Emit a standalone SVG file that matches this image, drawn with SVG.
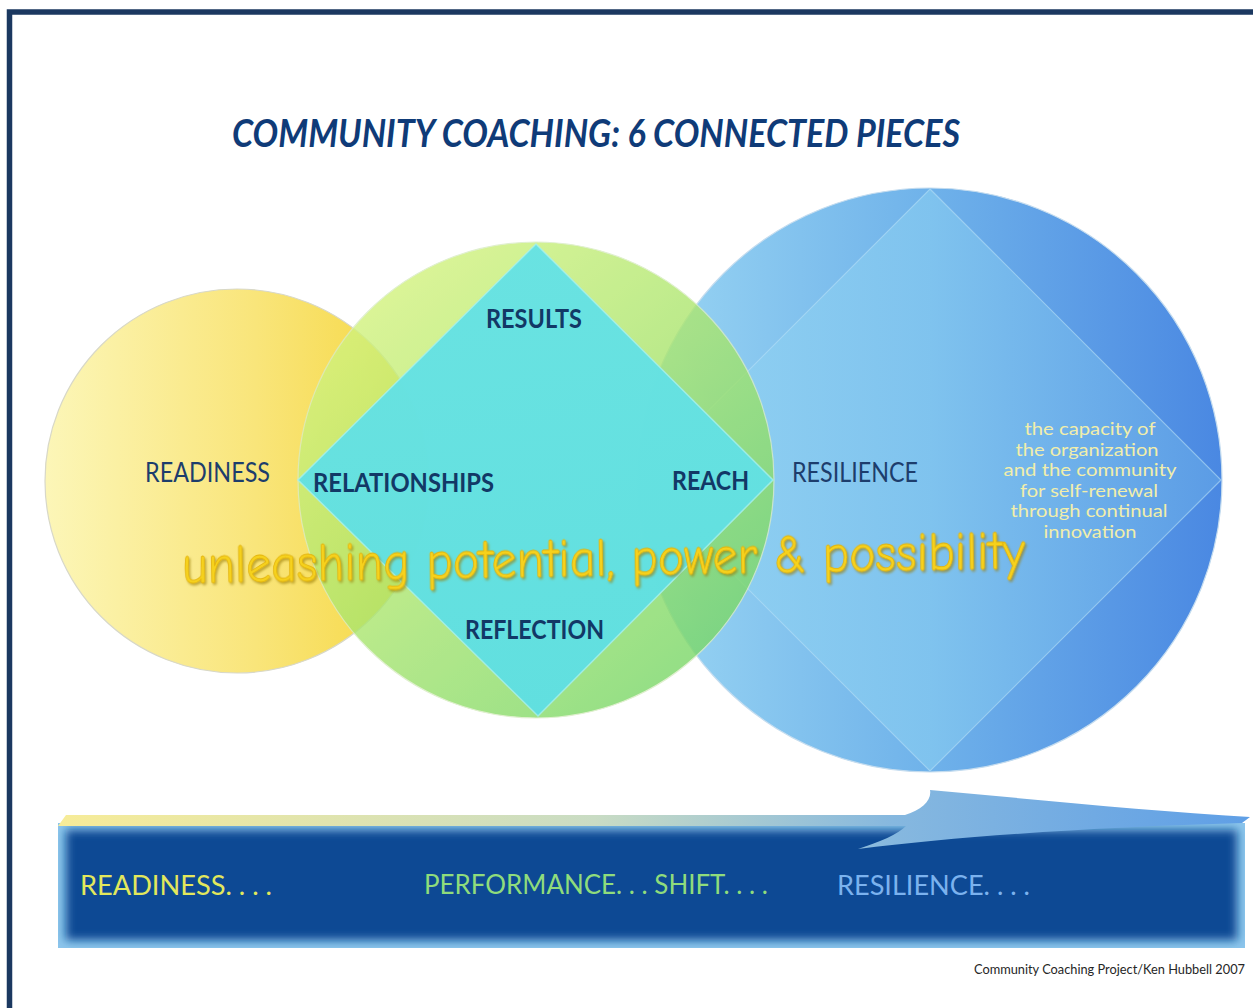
<svg xmlns="http://www.w3.org/2000/svg" width="1253" height="1008" viewBox="0 0 1253 1008">
  <defs>
    <style>
      .title { font-family: Lato, "Open Sans", "Liberation Sans", sans-serif; font-weight: 700; font-style: italic; font-size: 39px; fill: #0f3b78; }
      .lbl { font-family: Lato, "Open Sans", "Liberation Sans", sans-serif; font-size: 27px; fill: #1d3d6c; }
      .lbl-b { font-family: Lato, "Open Sans", "Liberation Sans", sans-serif; font-weight: 700; font-size: 27px; fill: #123866; }
      .desc { font-family: Lato, "Open Sans", "Liberation Sans", sans-serif; font-size: 17.5px; fill: #f1eeaa; text-anchor: middle; }
      .motto { font-family: "Comic Neue", Lato, "Open Sans", sans-serif; font-size: 54px; fill: #f6d21e; stroke: #e4b40c; stroke-width: 0.8; }
      .bar-txt { font-family: Lato, "Open Sans", "Liberation Sans", sans-serif; font-size: 26px; }
      .foot { font-family: Lato, "Open Sans", "Liberation Sans", sans-serif; font-size: 13px; fill: #262626; text-anchor: end; }
    </style>
    <linearGradient id="gYellow" x1="0" y1="0" x2="1" y2="0">
      <stop offset="0" stop-color="#fcf6b8"/>
      <stop offset="0.55" stop-color="#f9e57a"/>
      <stop offset="1" stop-color="#f5d63c"/>
    </linearGradient>
    <linearGradient id="gGreen" x1="0.15" y1="0.1" x2="0.85" y2="0.9">
      <stop offset="0" stop-color="#d4f37e"/>
      <stop offset="0.5" stop-color="#a9e56e"/>
      <stop offset="1" stop-color="#78d768"/>
    </linearGradient>
    <linearGradient id="gCyan" x1="0" y1="0" x2="0" y2="1">
      <stop offset="0" stop-color="#66e2e4"/>
      <stop offset="1" stop-color="#5fdfe2"/>
    </linearGradient>
    <linearGradient id="gBlue" x1="0" y1="0" x2="1" y2="0">
      <stop offset="0" stop-color="#9ad6f3"/>
      <stop offset="0.5" stop-color="#6fb2ea"/>
      <stop offset="1" stop-color="#4a88e2"/>
    </linearGradient>
    <linearGradient id="gBlueDiamond" x1="0" y1="0" x2="1" y2="0">
      <stop offset="0" stop-color="#93d3f2"/>
      <stop offset="0.5" stop-color="#82c6ef"/>
      <stop offset="1" stop-color="#5e9fe6"/>
    </linearGradient>
    <linearGradient id="gStrip" x1="58" y1="0" x2="1250" y2="0" gradientUnits="userSpaceOnUse">
      <stop offset="0" stop-color="#f7ec98"/>
      <stop offset="0.45" stop-color="#c9dcc4"/>
      <stop offset="0.7" stop-color="#86b8df"/>
      <stop offset="1" stop-color="#5f9fe6"/>
    </linearGradient>
    <filter id="soft" x="-10%" y="-10%" width="120%" height="120%">
      <feGaussianBlur stdDeviation="5"/>
    </filter>
    <filter id="mottoShadow" x="-5%" y="-30%" width="110%" height="160%">
      <feDropShadow dx="1.5" dy="2" stdDeviation="1.2" flood-color="#9a7a00" flood-opacity="0.6"/>
    </filter>
    <clipPath id="barClip">
      <rect x="58" y="823" width="1187" height="125"/>
    </clipPath>
  </defs>

  <!-- page frame -->
  <rect x="0" y="0" width="1253" height="1008" fill="#ffffff"/>
  <path d="M9.5 1008 V12 H1253" fill="none" stroke="#1b3860" stroke-width="5.5"/>

  <text class="title" x="232" y="147" textLength="728" lengthAdjust="spacingAndGlyphs">COMMUNITY COACHING: 6 CONNECTED PIECES</text>

  <!-- readiness circle -->
  <g id="node-readiness">
    <circle cx="237" cy="481" r="192" fill="url(#gYellow)" stroke="#d8d8c8" stroke-width="1.2"/>
  </g>

  <!-- resilience circle with inner diamond -->
  <g id="node-resilience">
    <circle cx="930" cy="480" r="292" fill="url(#gBlue)" stroke="#c4dcef" stroke-width="1.2"/>
    <polygon points="930,189 1221,480 930,771 639,480" fill="url(#gBlueDiamond)" opacity="0.85"/>
    <polygon points="930,189 1221,480 930,771 639,480" fill="none" stroke="#b6e0f6" stroke-width="1.2" opacity="0.6"/>
  </g>

  <!-- performance circle (results / relationships / reach / reflection) -->
  <g id="node-performance">
    <circle cx="536" cy="480" r="238" fill="url(#gGreen)" opacity="0.8" stroke="#d9ecc4" stroke-width="1.2"/>
    <polygon points="536,244 773,480 538,716 298,480" fill="url(#gCyan)" opacity="0.97"/>
    <polygon points="536,244 773,480 538,716 298,480" fill="none" stroke="#a8f0ee" stroke-width="1.5" opacity="0.8"/>
  </g>

  <!-- labels -->
  <g id="labels">
    <text class="lbl" x="145" y="482" textLength="125" lengthAdjust="spacingAndGlyphs">READINESS</text>
    <text class="lbl-b" x="486" y="328" textLength="96" lengthAdjust="spacingAndGlyphs">RESULTS</text>
    <text class="lbl-b" x="313" y="492" textLength="181" lengthAdjust="spacingAndGlyphs">RELATIONSHIPS</text>
    <text class="lbl-b" x="672" y="490" textLength="77" lengthAdjust="spacingAndGlyphs">REACH</text>
    <text class="lbl-b" x="465" y="639" textLength="139" lengthAdjust="spacingAndGlyphs">REFLECTION</text>
    <text class="lbl" x="792" y="482" textLength="126" lengthAdjust="spacingAndGlyphs">RESILIENCE</text>
    <text class="desc" x="1090" y="435" textLength="131" lengthAdjust="spacingAndGlyphs">the capacity of</text>
    <text class="desc" x="1087" y="456" textLength="143" lengthAdjust="spacingAndGlyphs">the organization</text>
    <text class="desc" x="1090" y="476" textLength="173" lengthAdjust="spacingAndGlyphs">and the community</text>
    <text class="desc" x="1089" y="497" textLength="138" lengthAdjust="spacingAndGlyphs">for self-renewal</text>
    <text class="desc" x="1089" y="517" textLength="157" lengthAdjust="spacingAndGlyphs">through continual</text>
    <text class="desc" x="1090" y="538" textLength="93" lengthAdjust="spacingAndGlyphs">innovation</text>
  </g>

  <text class="motto" x="182" y="576" textLength="843" lengthAdjust="spacingAndGlyphs" transform="rotate(-1 603 560)" filter="url(#mottoShadow)">unleashing potential, power &amp; possibility</text>

  <!-- progression bar -->
  <g id="node-progression">
    <g clip-path="url(#barClip)">
      <rect x="58" y="823" width="1187" height="125" fill="#8cc6ec"/>
      <rect x="66" y="830" width="1171" height="110" fill="#0e4a94" filter="url(#soft)"/>
    </g>
    <text class="bar-txt" x="80" y="895" fill="#e2e85c" textLength="192" lengthAdjust="spacingAndGlyphs">READINESS. . . .</text>
    <text class="bar-txt" x="424" y="894" fill="#8fdc7c" textLength="344" lengthAdjust="spacingAndGlyphs">PERFORMANCE. . . SHIFT. . . .</text>
    <text class="bar-txt" x="837" y="895" fill="#7bb2ee" textLength="193" lengthAdjust="spacingAndGlyphs">RESILIENCE. . . .</text>
  </g>

  <!-- connectors -->
  <g id="connectors">
    <path d="M58 826 L66 815 L905 815 C922 810 932 800 930 790 C1040 800 1150 811 1250 817 L1242 823 C1100 827 960 836 858 849 C880 842 898 834 906 826 Z" fill="url(#gStrip)"/>
  </g>

  <text class="foot" x="1245" y="974" textLength="271" lengthAdjust="spacingAndGlyphs">Community Coaching Project/Ken Hubbell 2007</text>
</svg>
